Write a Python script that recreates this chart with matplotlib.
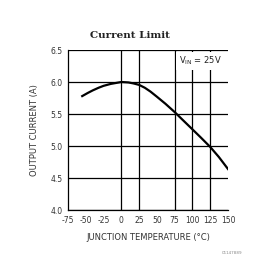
import matplotlib
matplotlib.use("Agg")
import matplotlib.pyplot as plt
import numpy as np

temps = [-55, -47, -40, -32, -25, -15, -5, 0, 10, 17, 25, 33, 41, 50, 62, 75, 87, 100, 112, 125, 137, 150]
current = [5.78, 5.83, 5.87, 5.91, 5.94, 5.97, 5.99, 6.0, 5.993, 5.978, 5.955, 5.91, 5.85, 5.77,
           5.66, 5.53, 5.40, 5.26, 5.13, 4.985, 4.83, 4.64]
xticks = [-75, -50, -25, 0, 25, 50, 75, 100, 125, 150]
xgrid = [0, 25, 75, 100, 125]
yticks = [4.0, 4.5, 5.0, 5.5, 6.0, 6.5]

fig = plt.figure(figsize=(2.8, 2.76), dpi=100)
ax = fig.add_axes([68/280, 1-210/276, 160/280, 160/276])
ax.set_xlim(-75, 150)
ax.set_ylim(4.0, 6.5)

for y in yticks:
    ax.axhline(y, color='black', lw=0.9, zorder=1)
for x in xgrid:
    ax.axvline(x, color='black', lw=0.9, zorder=1)

ax.plot(temps, current, color='black', lw=1.6, zorder=3, solid_joinstyle='round')

for s in ['right', 'top']:
    ax.spines[s].set_visible(False)
for s in ['left', 'bottom']:
    ax.spines[s].set_linewidth(0.9)

ax.set_xticks(xticks)
ax.set_xticklabels([str(t) for t in xticks])
ax.set_yticks(yticks)
ax.set_yticklabels([f"{v:.1f}" for v in yticks])
ax.tick_params(length=0, labelsize=5.5, colors='#333333', pad=4)

ax.set_xlabel("JUNCTION TEMPERATURE (°C)", fontsize=6, color='#333333', labelpad=6)
ax.set_ylabel("OUTPUT CURRENT (A)", fontsize=6, color='#333333', labelpad=8)

fig.text(130/280, 1-35/276, "Current Limit", ha='center', va='center',
         fontsize=7.5, fontweight='bold', family='DejaVu Serif', color='#222222')

ax.text(0.96, 0.93, r"V$_{\mathregular{IN}}$ = 25V", transform=ax.transAxes,
        ha='right', va='center', fontsize=6, color='#222222', zorder=5,
        bbox=dict(facecolor='white', edgecolor='none', pad=2))

fig.text(232/280, 1-253/276, "01147889", ha='center', va='center',
         fontsize=3, color='#888888')

fig.savefig("out.png", dpi=100)
